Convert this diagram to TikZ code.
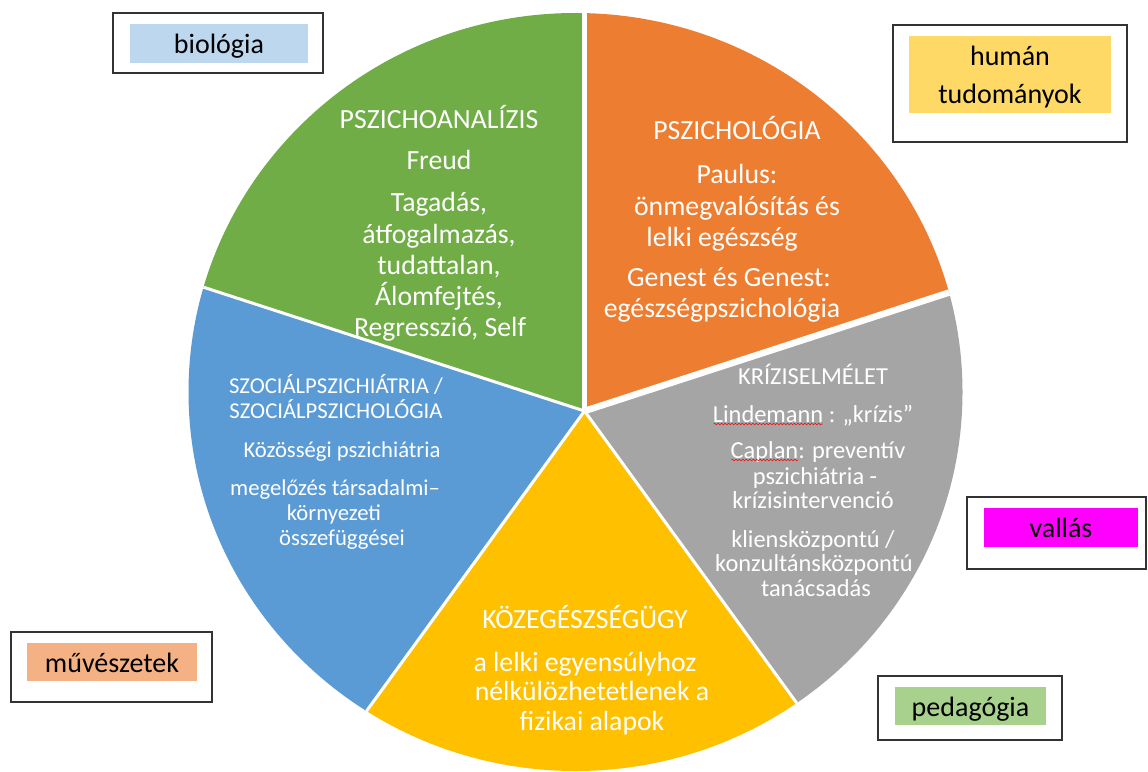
\documentclass[tikz,border=0pt]{standalone}
\usepackage{fontspec}
\setmainfont{Carlito}
\usetikzlibrary{calc,decorations.pathmorphing}
\definecolor{cgreen}{HTML}{70AD47}
\definecolor{corange}{HTML}{ED7D31}
\definecolor{cgray}{HTML}{A5A5A5}
\definecolor{cyellow}{HTML}{FFC000}
\definecolor{cblue}{HTML}{5B9BD5}
\definecolor{fbio}{HTML}{BDD7EE}
\definecolor{fhum}{HTML}{FFD966}
\definecolor{fval}{HTML}{FF00FF}
\definecolor{fmuv}{HTML}{F4B183}
\definecolor{fped}{HTML}{A9D18E}
\begin{document}
\begin{tikzpicture}[x=0.75pt,y=-0.75pt,
  gap/.style={white, line width=2.25pt},
  wt/.style={text=white, inner sep=0pt},
  fbig/.style={font=\fontsize{20.8}{24}\selectfont, text height=15pt, text depth=4.6pt},
  fmid/.style={font=\fontsize{18.3}{21}\selectfont, text height=13.2pt, text depth=4pt},
  fsml/.style={font=\fontsize{17}{20}\selectfont, text height=12.2pt, text depth=3.8pt},
  outerbox/.style={draw=black!80, line width=1.1pt, inner sep=0pt},
  innerbox/.style={inner sep=0pt, text=black, font=\fontsize{21}{28}\selectfont},
  boxtext/.style={text height=18.6pt, text depth=3pt},
  squig/.style={red, line width=0.4pt, decorate, decoration={snake, amplitude=0.6pt, segment length=2.6pt}}]
\useasboundingbox (0,0) rectangle (1148,771);
\coordinate (P) at (584.5,411);
% pie
\begin{scope}
\clip (575.5,392) ellipse [x radius=290.25pt, y radius=284.25pt];
\fill[cgreen]  (P) -- ($(P)+(-90:800)$)  -- ($(P)+(-126:1000)$) -- ($(P)+(-162:800)$) -- cycle;
\fill[cblue]   (P) -- ($(P)+(-162:800)$) -- ($(P)+(-198:1000)$) -- ($(P)+(-234:800)$) -- cycle;
\fill[cyellow] (P) -- ($(P)+(-234:800)$) -- ($(P)+(-270:1000)$) -- ($(P)+(-306:800)$) -- cycle;
\fill[cgray]   (P) -- ($(P)+(-306:800)$) -- ($(P)+(-342:1000)$) -- ($(P)+(-378:800)$) -- cycle;
\fill[corange] (P) -- ($(P)+(-18:800)$)  -- ($(P)+(-54:1000)$)  -- ($(P)+(-90:800)$)  -- cycle;
\draw[gap] (P) -- ++(-162:430);
\draw[gap] (P) -- ++(-234:430);
\draw[gap] (P) -- ++(-306:430);
\draw[gap, line width=4.3pt] (P) -- ++(-90:430);
\draw[gap, line width=4.9pt] (P) -- ++(-18:430);
\end{scope}
% green texts
\node[wt,fbig] (g1) at (439,122) {PSZICHOANALÍZIS};
\node[wt,fbig] (g2) at (439,163) {Freud};
\node[wt,fbig] (g3) at (439,205) {Tagadás,};
\node[wt,fbig] (g4) at (439,237) {átfogalmazás,};
\node[wt,fbig] (g5) at (439,268) {tudattalan,};
\node[wt,fbig] (g6) at (439,299) {Álomfejtés,};
\node[wt,fbig] (g7) at (440,330) {Regresszió, Self};
% orange texts
\node[wt,fbig] (o1) at (737,133) {PSZICHOLÓGIA};
\node[wt,fbig] (o2) at (737,177) {Paulus:};
\node[wt,fbig] (o3) at (737,209) {önmegvalósítás és};
\node[wt,fbig] (o4) at (722,240) {lelki egészség};
\node[wt,fbig] (o5) at (729,280) {Genest és Genest:};
\node[wt,fbig] (o6) at (722,311) {egészségpszichológia};
% gray texts
\node[wt,fmid] (r1) at (813,378) {KRÍZISELMÉLET};
\node[wt,fmid] (r2) at (813,416) {Lindemann : „krízis”};
\node[wt,fmid] (r3) at (818,452) {Caplan: preventív};
\node[wt,fmid] (r4) at (815,478) {pszichiátria -};
\node[wt,fmid] (r5) at (813,502) {krízisintervenció};
\node[wt,fmid] (r6) at (813,541) {kliensközpontú /};
\node[wt,fmid] (r7) at (814,565) {konzultánsközpontú};
\node[wt,fmid] (r8) at (816,590) {tanácsadás};
\draw[squig] ($(r2.west)+(1,8)$) -- ($(r2.west)+(110,8)$);
\draw[squig] ($(r3.west)+(1,8)$) -- ($(r3.west)+(68,8)$);
% blue texts
\node[wt,fsml] (b1) at (336,388) {SZOCIÁLPSZICHIÁTRIA /};
\node[wt,fsml] (b2) at (336,413) {SZOCIÁLPSZICHOLÓGIA};
\node[wt,fsml] (b3) at (342,452) {Közösségi pszichiátria};
\node[wt,fsml] (b4) at (335,490) {megelőzés társadalmi–};
\node[wt,fsml] (b5) at (334,515) {környezeti};
\node[wt,fsml] (b6) at (342,540) {összefüggései};
% yellow texts
\node[wt,fbig] (y1) at (585,622) {KÖZEGÉSZSÉGÜGY};
\node[wt,fbig] (y2) at (585,665) {a lelki egyensúlyhoz};
\node[wt,fbig] (y3) at (592,694) {nélkülözhetetlenek a};
\node[wt,fbig] (y4) at (592,724) {fizikai alapok};
% boxes
\node[outerbox, minimum width=157.5pt, minimum height=45pt] (bioO) at (218,43) {};
\node[innerbox, fill=fbio, minimum width=133.5pt, minimum height=29.25pt, boxtext] (bio) at (219,43.5) {biológia};
\node[outerbox, minimum width=175.5pt, minimum height=87.75pt] (humO) at (1010,83.5) {};
\node[innerbox, fill=fhum, minimum width=151.5pt, minimum height=57.75pt] (hum) at (1010,74.5) {};
\node[innerbox, align=center] (humT) at (1010,77) {humán\\tudományok};
\node[outerbox, minimum width=134.25pt, minimum height=54pt] (valO) at (1056.5,533) {};
\node[innerbox, fill=fval, minimum width=115.5pt, minimum height=29.25pt, boxtext] (val) at (1061,527.5) {vallás};
\node[outerbox, minimum width=150.75pt, minimum height=52.5pt] (muvO) at (111.5,667) {};
\node[innerbox, fill=fmuv, minimum width=127.5pt, minimum height=28.5pt, boxtext] (muv) at (112,662) {művészetek};
\node[outerbox, minimum width=138pt, minimum height=48pt] (pedO) at (970,708) {};
\node[innerbox, fill=fped, minimum width=113.25pt, minimum height=28.5pt, boxtext] (ped) at (970.5,706) {pedagógia};
\end{tikzpicture}
\end{document}
